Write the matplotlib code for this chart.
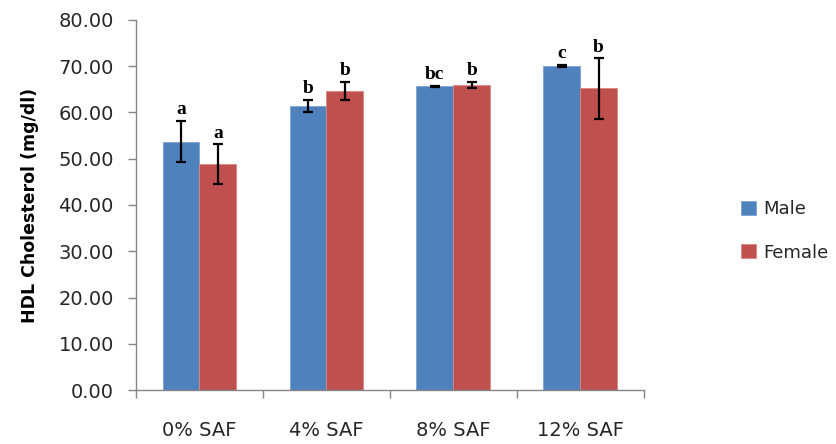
import numpy as np
import matplotlib
matplotlib.use("Agg")
import matplotlib.pyplot as plt

categories = ["0% SAF", "4% SAF", "8% SAF", "12% SAF"]
male = [53.7, 61.5, 65.7, 70.1]
male_err = [4.5, 1.3, 0.1, 0.2]
female = [48.8, 64.6, 65.9, 65.2]
female_err = [4.3, 2.0, 0.7, 6.5]
male_letters = ["a", "b", "bc", "c"]
female_letters = ["a", "b", "b", "b"]

blue = "#4F81BD"
red = "#C0504D"
axis_gray = "#868686"

fig = plt.figure(figsize=(8.37, 4.44), dpi=100)
ax = fig.add_axes([0.1625, 0.1216, 0.6065, 0.8334])

x = np.arange(len(categories))
w = 0.29

err_kw = dict(ecolor="black", elinewidth=1.6, capsize=3.8, capthick=1.6)
ax.bar(x - w / 2, male, w, color=blue, edgecolor="#7FA3D4", linewidth=0.6,
       yerr=male_err, error_kw=err_kw, label="Male")
ax.bar(x + w / 2, female, w, color=red, edgecolor="#D88683", linewidth=0.6,
       yerr=female_err, error_kw=err_kw, label="Female")

# significance letters above the error bars
for i in range(len(categories)):
    ax.text(x[i] - w / 2, male[i] + male_err[i] + 2.4, male_letters[i],
            ha="center", va="center", fontsize=14, fontweight="bold",
            family="Liberation Serif")
    ax.text(x[i] + w / 2, female[i] + female_err[i] + 2.4, female_letters[i],
            ha="center", va="center", fontsize=14, fontweight="bold",
            family="Liberation Serif")

ax.set_xlim(-0.5, len(categories) - 0.5)
ax.set_ylim(0, 80)
ax.set_yticks(np.arange(0, 81, 10))
ax.set_yticklabels([f"{v:.2f}" for v in np.arange(0, 81, 10)], fontsize=14,
                   color="#262626")
ax.set_xticks(x)
ax.set_xticklabels(categories, fontsize=14, color="#262626")
ax.set_xticks(np.arange(-0.5, len(categories)), minor=True)
ax.tick_params(axis="x", which="major", length=0, pad=22)
ax.tick_params(axis="x", which="minor", length=6, color=axis_gray, width=1)
ax.tick_params(axis="y", length=6, color=axis_gray, width=1, pad=10)

for side in ["top", "right"]:
    ax.spines[side].set_visible(False)
for side in ["left", "bottom"]:
    ax.spines[side].set_color(axis_gray)
    ax.spines[side].set_linewidth(1)

ax.set_ylabel("HDL Cholesterol (mg/dl)", fontsize=12.5, fontweight="bold",
              labelpad=14)

leg = ax.legend(loc="center left", bbox_to_anchor=(1.16, 0.43), frameon=False,
                fontsize=13, handlelength=0.85, handleheight=0.85,
                labelspacing=1.4, handletextpad=0.4)
for t in leg.get_texts():
    t.set_color("#262626")

fig.savefig("out.png", dpi=100)
